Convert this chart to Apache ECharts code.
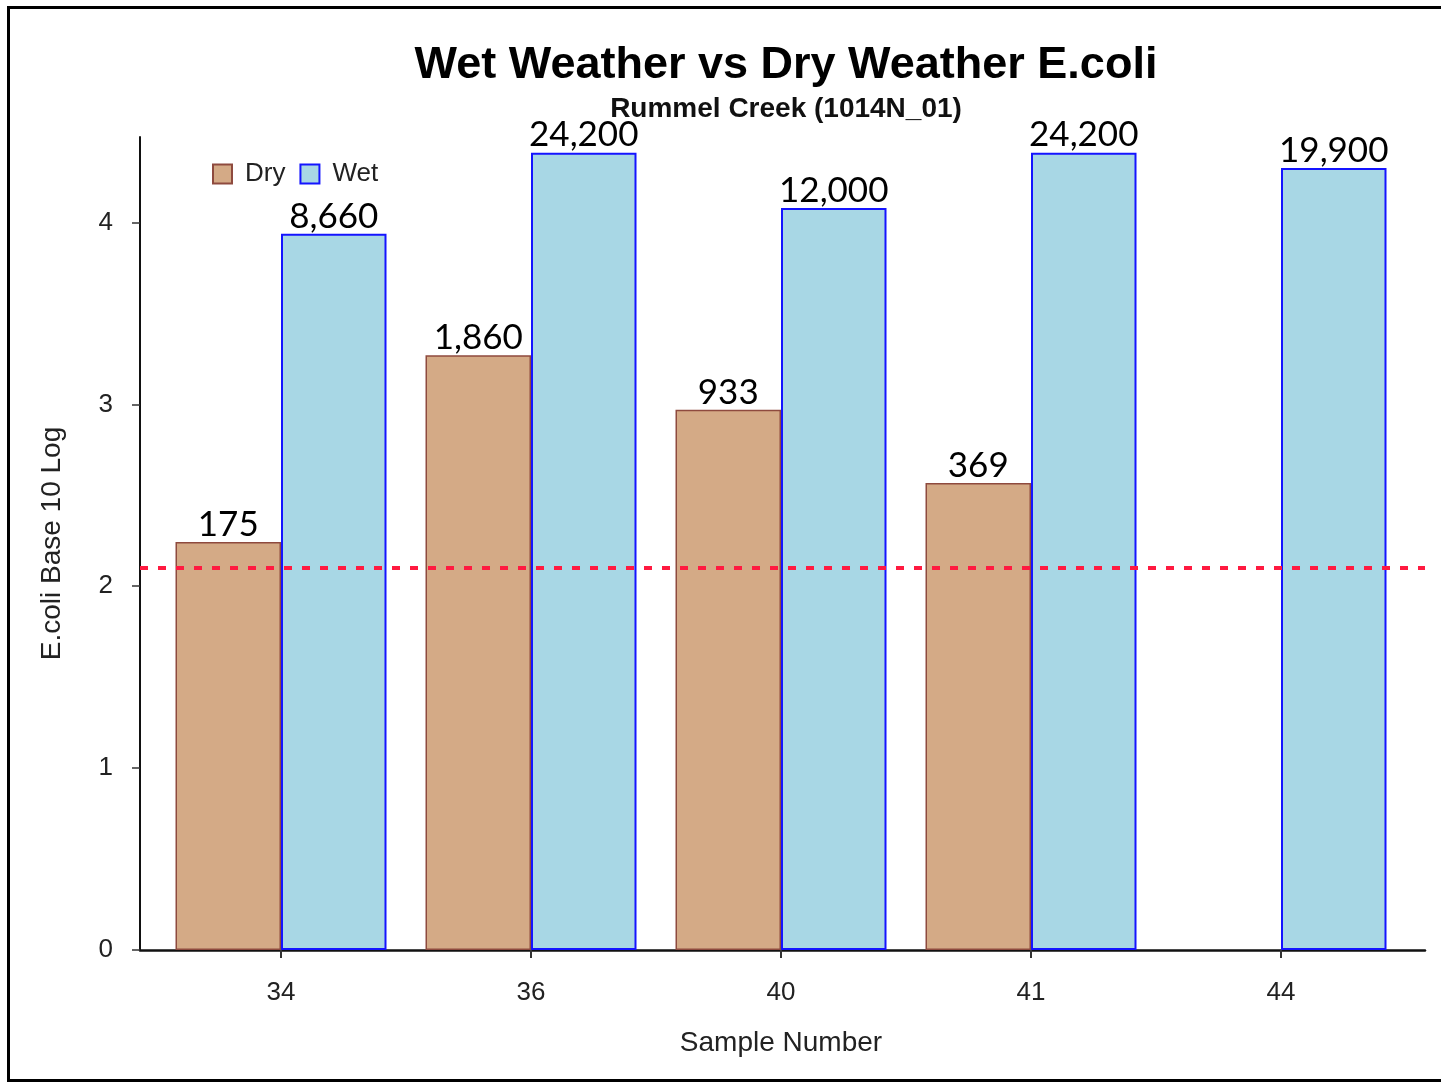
<!DOCTYPE html>
<html>
<head>
<meta charset="utf-8">
<script src="https://cdn.jsdelivr.net/npm/echarts@6/dist/echarts.min.js"></script>
<style>
html, body { margin: 0; padding: 0; background: #fff; overflow: hidden; }
#frame { position: absolute; left: 7px; top: 6px; width: 1500px; height: 1070px; border: 3px solid #000; box-sizing: content-box; }
#chart { position: absolute; left: 0; top: 0; width: 1441px; height: 1082px; }
</style>
</head>
<body>
<div id="frame"></div>
<div id="chart"></div>
<script>
// Categories (sample numbers)
const categories = ['34', '36', '40', '41', '44'];
// E.coli counts shown as labels
const dryCounts = [175, 1860, 933, 369, null];
const wetCounts = [8660, 24200, 12000, 24200, 19900];
// Plotted bar heights (base 10 log of counts)
const dryLog = [2.243, 3.270, 2.970, 2.567, null];
const wetLog = [3.938, 4.384, 4.079, 4.384, 4.299];
// Reference line (log10 value)
const thresholdLog = 2.1;
// Y axis tick values
const yTicks = [0, 1, 2, 3, 4];
const yMax = 4.47;

const fmt = v => (v == null ? '' : v.toLocaleString('en-US'));
const labelFont = { fontFamily: 'Lato', fontSize: 35, color: '#000' };

const chart = echarts.init(document.getElementById('chart'), null, { renderer: 'canvas' });

chart.setOption({
  backgroundColor: 'transparent',
  animation: false,
  title: [
    { text: 'Wet Weather vs Dry Weather E.coli', left: 781, top: 38, textAlign: 'center',
      textStyle: { fontFamily: 'Liberation Sans', fontWeight: 'bold', fontSize: 45, color: '#000' } },
    { text: 'Rummel Creek (1014N_01)', left: 781, top: 90, textAlign: 'center',
      textStyle: { fontFamily: 'Liberation Sans', fontWeight: 'bold', fontSize: 28, color: '#111' } }
  ],
  legend: {
    left: 207, top: 156, itemWidth: 19, itemHeight: 19, itemGap: 14,
    icon: 'rect',
    textStyle: { fontFamily: 'Liberation Sans', fontSize: 26, color: '#222', padding: [0, 0, 0, 8] },
    data: ['Dry', 'Wet']
  },
  grid: [
    { left: 140, right: 16, top: 137, bottom: 132 },
    { left: 156, right: 35, top: 137, bottom: 132 }
  ],
  xAxis: [
    { type: 'value', gridIndex: 0, min: 0, max: 1,
      axisLine: { show: true, lineStyle: { color: '#111', width: 2.5 } },
      axisTick: { show: false }, axisLabel: { show: false }, splitLine: { show: false } },
    { type: 'category', gridIndex: 1, data: categories,
      name: 'Sample Number', nameLocation: 'middle', nameGap: 79,
      nameTextStyle: { fontFamily: 'Liberation Sans', fontSize: 28, color: '#222' },
      axisLine: { show: false },
      axisTick: { show: true, alignWithLabel: true, length: 8, lineStyle: { color: '#333', width: 2 } },
      axisLabel: { margin: 30, fontFamily: 'Liberation Sans', fontSize: 26, color: '#222' } }
  ],
  yAxis: [
    { type: 'value', gridIndex: 0, min: 0, max: yMax,
      name: 'E.coli Base 10 Log', nameLocation: 'middle', nameGap: 74,
      nameTextStyle: { fontFamily: 'Liberation Sans', fontSize: 28, color: '#222' },
      axisLine: { show: true, lineStyle: { color: '#111', width: 2 } },
      axisTick: { show: true, length: 8, customValues: yTicks, lineStyle: { color: '#333', width: 1.5 } },
      axisLabel: { margin: 27, customValues: yTicks, fontFamily: 'Liberation Sans', fontSize: 26, color: '#222' },
      splitLine: { show: false } },
    { type: 'value', gridIndex: 1, min: 0, max: yMax, show: false, splitLine: { show: false } }
  ],
  series: [
    { name: 'threshold', type: 'line', xAxisIndex: 0, yAxisIndex: 0, data: [],
      silent: true,
      markLine: {
        silent: true, symbol: ['none', 'none'], label: { show: false },
        lineStyle: { color: '#FF1A40', width: 4, type: [8, 10] },
        data: [{ yAxis: thresholdLog }]
      } },
    { name: 'Dry', type: 'bar', xAxisIndex: 1, yAxisIndex: 1,
      data: dryLog, barGap: '0%', barCategoryGap: '15.6%',
      itemStyle: { color: '#D4AA86', borderColor: '#8E4A3E', borderWidth: 1.5 },
      label: { show: true, position: 'top', distance: 0, ...labelFont,
        formatter: p => fmt(dryCounts[p.dataIndex]) } },
    { name: 'Wet', type: 'bar', xAxisIndex: 1, yAxisIndex: 1,
      data: wetLog, barGap: '0%', barCategoryGap: '15.6%',
      itemStyle: { color: '#A8D7E5', borderColor: '#1414FF', borderWidth: 2 },
      label: { show: true, position: 'top', distance: 0, ...labelFont,
        formatter: p => fmt(wetCounts[p.dataIndex]) } }
  ]
});
</script>
</body>
</html>
